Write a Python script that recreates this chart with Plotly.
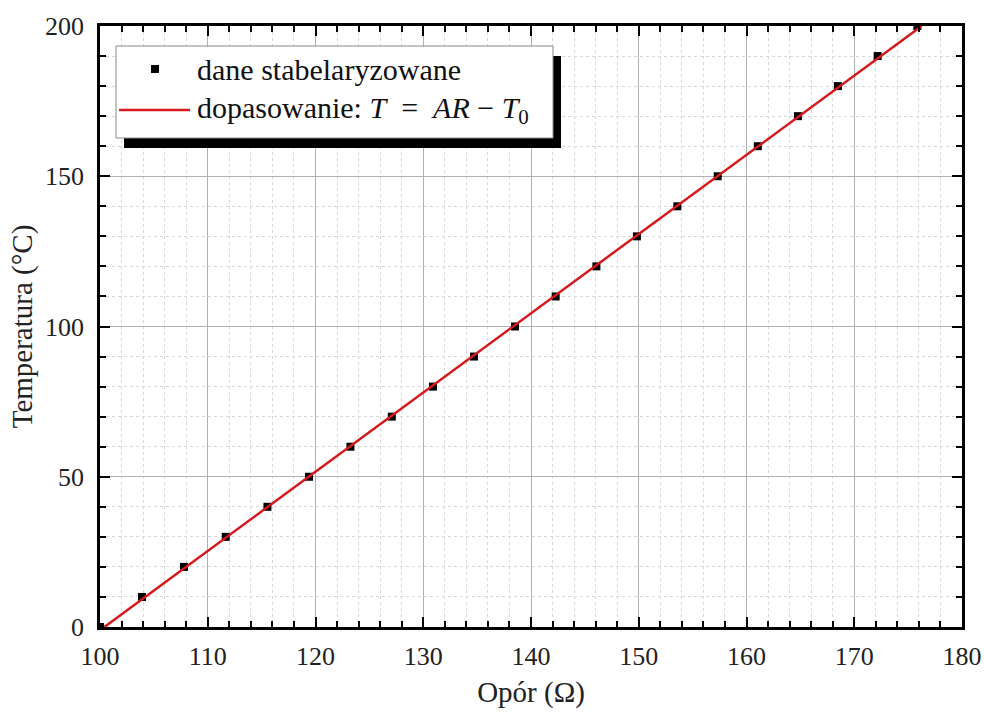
import numpy as np
import plotly.graph_objects as go

# data
temperature = [0, 10, 20, 30, 40, 50, 60, 70, 80, 90, 100,
               110, 120, 130, 140, 150, 160, 170, 180, 190, 200]
resistance = [100.0, 103.9, 107.79, 111.67, 115.54, 119.4, 123.24, 127.08, 130.9, 134.71, 138.51,
              142.29, 146.07, 149.83, 153.58, 157.33, 161.05, 164.77, 168.48, 172.17, 175.86]

x_ticks = [100, 110, 120, 130, 140, 150, 160, 170, 180]
y_ticks = [0, 50, 100, 150, 200]

# linear fit T = A*R - T0
A, B = np.polyfit(resistance[1:-1], temperature[1:-1], 1)
T0 = -B
r_fit = np.linspace(T0 / A, (200 + T0) / A, 50)
t_fit = A * r_fit - T0

FONT = "Liberation Serif, Times New Roman, serif"
RED = "#d41a1f"

fig = go.Figure()
fig.add_trace(go.Scatter(x=resistance, y=temperature, mode="markers",
                         marker=dict(symbol="square", size=8, color="black"),
                         name="dane stabelaryzowane", showlegend=False))
fig.add_trace(go.Scatter(x=r_fit, y=t_fit, mode="lines",
                         line=dict(color=RED, width=2.5),
                         name="dopasowanie", showlegend=False))

axis_common = dict(
    showline=True, linecolor="black", linewidth=2.5, mirror="allticks",
    ticks="inside", ticklen=10, tickwidth=2, tickcolor="black",
    showgrid=True, gridcolor="#b0b0b0", gridwidth=1,
    zeroline=False, automargin=False, ticklabeloverflow="allow",
    tickfont=dict(family=FONT, size=26, color="#222"),
)

fig.update_xaxes(range=[100, 180], tickvals=x_ticks, ticklabelstandoff=4,
                 minor=dict(dtick=2, ticks="inside", ticklen=6, tickwidth=2, tickcolor="black",
                            showgrid=True, gridcolor="#d8d8d8", griddash="dot", gridwidth=1),
                 title=dict(text="Opór (Ω)", font=dict(family=FONT, size=29, color="#222"), standoff=12),
                 **axis_common)
fig.update_yaxes(range=[0, 200], tickvals=y_ticks, ticklabelstandoff=8,
                 minor=dict(dtick=10, ticks="inside", ticklen=6, tickwidth=2, tickcolor="black",
                            showgrid=True, gridcolor="#d8d8d8", griddash="dot", gridwidth=1),
                 title=dict(text="Temperatura (°C)", font=dict(family=FONT, size=29, color="#222"), standoff=4),
                 **axis_common)

# custom legend with shadow (positions in page pixels, plot area 100..962 x 26..627)
W, H = 862.0, 601.0
def px(x):
    return (x - 100) / W
def py(y):
    return (627 - y) / H

shapes = [
    dict(type="rect", xref="paper", yref="paper", x0=px(124), x1=px(561), y0=py(148), y1=py(56),
         fillcolor="black", line=dict(width=0), layer="above"),
    dict(type="rect", xref="paper", yref="paper", x0=px(116), x1=px(553), y0=py(138), y1=py(46),
         fillcolor="white", line=dict(color="#888", width=1), layer="above"),
    dict(type="rect", xref="paper", yref="paper", x0=px(151), x1=px(159), y0=py(73), y1=py(65),
         fillcolor="black", line=dict(width=0), layer="above"),
    dict(type="line", xref="paper", yref="paper", x0=px(119), x1=px(190), y0=py(110), y1=py(110),
         line=dict(color=RED, width=2.5), layer="above"),
]
NB = "\u00a0"
annotations = [
    dict(xref="paper", yref="paper", x=px(195), y=py(69), xanchor="left", yanchor="middle",
         text="dane stabelaryzowane", showarrow=False,
         font=dict(family=FONT, size=30, color="#111")),
    dict(xref="paper", yref="paper", x=px(195), y=py(110), xanchor="left", yanchor="middle",
         text=f"dopasowanie: <i>T</i>{NB}{NB}={NB}{NB}<i>AR</i>{NB}−{NB}<i>T</i><sub>0</sub>", showarrow=False,
         font=dict(family=FONT, size=30, color="#111")),
]

fig.update_layout(
    width=984, height=715,
    margin=dict(l=100, r=22, t=26, b=88),
    plot_bgcolor="white", paper_bgcolor="white",
    shapes=shapes, annotations=annotations,
    font=dict(family=FONT),
)

# remove the default 8px page margin so the figure fills the window exactly
fig.write_html("out.html", config={"displayModeBar": False},
               post_script="document.body.style.margin='0';document.body.style.overflow='hidden';")
